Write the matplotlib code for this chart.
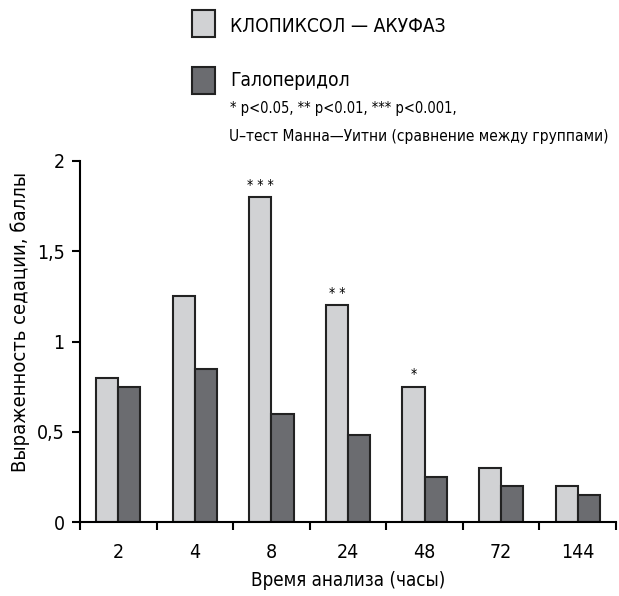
import matplotlib
matplotlib.use("Agg")
import matplotlib.pyplot as plt
import numpy as np
from matplotlib.patches import Rectangle

plt.rcParams['font.family'] = ['DejaVu Sans']
plt.rcParams['font.stretch'] = 'condensed'

hours = ['2', '4', '8', '24', '48', '72', '144']
clopixol = [0.80, 1.25, 1.80, 1.20, 0.75, 0.30, 0.20]
haloperidol = [0.75, 0.85, 0.60, 0.48, 0.25, 0.20, 0.15]
stars = ['', '', '***', '**', '*', '', '']

light = '#d1d2d4'
dark = '#6b6c70'
edge = '#222222'

W, H = 619, 596
fig = plt.figure(figsize=(W / 100, H / 100), dpi=100)
ax = fig.add_axes([80 / W, 1 - 522 / H, 536 / W, 361 / H])

x = np.arange(len(hours))
w = 0.29
ax.bar(x - w / 2, clopixol, w, color=light, edgecolor=edge, linewidth=1.5)
ax.bar(x + w / 2, haloperidol, w, color=dark, edgecolor=edge, linewidth=1.5)

for xi, v, s in zip(x, clopixol, stars):
    if s:
        ax.text(xi - w / 2, v + 0.03, ' '.join(s), ha='center', va='bottom', fontsize=10)

ax.set_xlim(-0.5, len(hours) - 0.5)
ax.set_ylim(0, 2)
ax.set_yticks([0, 0.5, 1, 1.5, 2])
ax.set_yticklabels(['0', '0,5', '1', '1,5', '2'], fontsize=14)
ax.set_xticks(x)
ax.set_xticklabels(hours, fontsize=14)
ax.set_xticks(np.arange(-0.5, len(hours)), minor=True)
ax.tick_params(axis='x', which='major', length=0, pad=15)
ax.tick_params(axis='x', which='minor', length=6, width=1.5, direction='out')
ax.tick_params(axis='y', length=6, width=1.5, direction='out', pad=5)

for sp in ['top', 'right']:
    ax.spines[sp].set_visible(False)
for sp in ['left', 'bottom']:
    ax.spines[sp].set_linewidth(1.5)

ax.set_ylabel('Выраженность седации, баллы', fontsize=14.5)
ax.yaxis.set_label_coords(-0.093, 0.554)
ax.set_xlabel('Время анализа (часы)', fontsize=13.5)
ax.xaxis.set_label_coords((348 - 80) / 536, -(580 - 522) / 361)
ax.xaxis.label.set_va('center')

# legend drawn by hand, as in the reference
fig.patches.append(Rectangle((192 / W, 1 - 37 / H), 23 / W, 27 / H,
                             transform=fig.transFigure, facecolor=light,
                             edgecolor=edge, linewidth=1.5))
fig.patches.append(Rectangle((192 / W, 1 - 94 / H), 23 / W, 27 / H,
                             transform=fig.transFigure, facecolor=dark,
                             edgecolor=edge, linewidth=1.5))
fig.text(230 / W, 1 - 27 / H, 'КЛОПИКСОЛ — АКУФАЗ', fontsize=13.8, va='center')
fig.text(230 / W, 1 - 80 / H, 'Галоперидол', fontsize=13.8, va='center')
fig.text(230 / W, 1 - 108 / H, '* p<0.05, ** p<0.01, *** p<0.001,', fontsize=10.5, va='center')
fig.text(229 / W, 1 - 136 / H, 'U–тест Манна—Уитни (сравнение между группами)', fontsize=11.1, va='center')

fig.savefig('out.png', dpi=100)
